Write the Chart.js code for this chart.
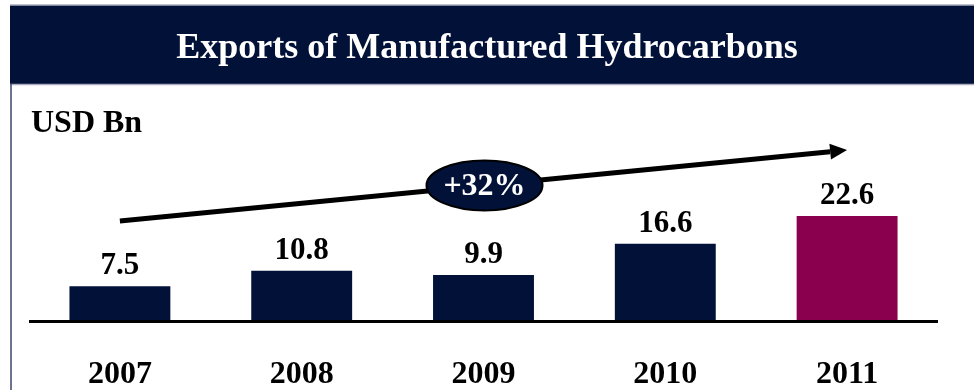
<!DOCTYPE html>
<html>
<head>
<meta charset="utf-8">
<script src="https://cdn.jsdelivr.net/npm/chart.js@4/dist/chart.umd.min.js"></script>
<style>
  html, body { margin: 0; padding: 0; background: #fff; overflow: hidden; }
  #wrap { width: 974px; height: 390px; position: relative; }
</style>
</head>
<body>
<div id="wrap"><canvas id="c" width="974" height="390"></canvas></div>
<script>
// Chart content
const chartTitle = 'Exports of Manufactured Hydrocarbons';
const unitLabel = 'USD Bn';
const years = ['2007', '2008', '2009', '2010', '2011'];
const exportsBn = [7.5, 10.8, 9.9, 16.6, 22.6];
const growthLabel = '+32%';

const NAVY = '#011137';
const MAROON = '#8a004f';
const SERIF = '"Liberation Serif", "Times New Roman", serif';
const barColors = years.map((_, i) => (i === years.length - 1 ? MAROON : NAVY));

// Header band, frame, axis line, labels and growth arrow
const decor = {
  id: 'decor',
  beforeDraw(chart) {
    const { ctx, width, height } = chart;
    ctx.save();
    ctx.fillStyle = '#fff';
    ctx.fillRect(0, 0, width, height);

    // header band
    ctx.fillStyle = NAVY;
    ctx.fillRect(10, 5, width - 10, 79);
    ctx.strokeStyle = '#a9adbf';
    ctx.lineWidth = 1.5;
    ctx.beginPath();
    ctx.moveTo(10, 5); ctx.lineTo(width, 5);
    ctx.moveTo(10, 84.5); ctx.lineTo(width, 84.5);
    ctx.stroke();

    // left frame line
    ctx.strokeStyle = '#3c4468';
    ctx.lineWidth = 1.5;
    ctx.beginPath();
    ctx.moveTo(11, 84); ctx.lineTo(11, height);
    ctx.stroke();

    // title
    ctx.fillStyle = '#fff';
    ctx.font = 'bold 36px ' + SERIF;
    ctx.textAlign = 'center';
    ctx.textBaseline = 'alphabetic';
    ctx.fillText(chartTitle, width / 2, 58);

    // unit label
    ctx.fillStyle = '#000';
    ctx.font = 'bold 32px ' + SERIF;
    ctx.textAlign = 'left';
    ctx.fillText(unitLabel, 31, 132);
    ctx.restore();
  },
  afterDatasetsDraw(chart) {
    const { ctx, chartArea } = chart;
    const xs = chart.scales.x;
    const ys = chart.scales.y;
    const meta = chart.getDatasetMeta(0);
    ctx.save();

    // category axis line
    const y0 = ys.getPixelForValue(0);
    ctx.strokeStyle = '#000';
    ctx.lineWidth = 3;
    ctx.beginPath();
    ctx.moveTo(chartArea.left, y0 + 0.5);
    ctx.lineTo(chartArea.right, y0 + 0.5);
    ctx.stroke();

    // value labels
    ctx.fillStyle = '#000';
    ctx.font = 'bold 31px ' + SERIF;
    ctx.textAlign = 'center';
    ctx.textBaseline = 'alphabetic';
    meta.data.forEach((bar, i) => {
      ctx.fillText(String(exportsBn[i]), bar.x, bar.y - 12);
    });

    // year labels
    ctx.font = 'bold 32px ' + SERIF;
    years.forEach((yr, i) => {
      ctx.fillText(yr, xs.getPixelForValue(i), 383);
    });

    // growth arrow
    const x1 = xs.getPixelForValue(0);
    const x2 = xs.getPixelForValue(years.length - 1);
    const y1 = 221, y2 = 150;
    const ang = Math.atan2(y2 - y1, x2 - x1);
    const headLen = 17, headHalf = 8;
    const bx = x2 - headLen * Math.cos(ang);
    const by = y2 - headLen * Math.sin(ang);
    ctx.strokeStyle = '#000';
    ctx.lineWidth = 5;
    ctx.lineCap = 'butt';
    ctx.beginPath();
    ctx.moveTo(x1, y1);
    ctx.lineTo(bx, by);
    ctx.stroke();
    ctx.fillStyle = '#000';
    ctx.beginPath();
    ctx.moveTo(x2, y2);
    ctx.lineTo(bx + headHalf * Math.sin(ang), by - headHalf * Math.cos(ang));
    ctx.lineTo(bx - headHalf * Math.sin(ang), by + headHalf * Math.cos(ang));
    ctx.closePath();
    ctx.fill();

    // growth badge
    const cx = xs.getPixelForValue(2) + 1;
    const cy = y1 + (y2 - y1) * (cx - x1) / (x2 - x1);
    ctx.beginPath();
    ctx.ellipse(cx, cy, 58, 25, 0, 0, Math.PI * 2);
    ctx.fillStyle = NAVY;
    ctx.fill();
    ctx.lineWidth = 2;
    ctx.strokeStyle = '#000';
    ctx.stroke();
    ctx.fillStyle = '#fff';
    ctx.font = 'bold 32px ' + SERIF;
    ctx.textAlign = 'center';
    ctx.textBaseline = 'middle';
    ctx.fillText(growthLabel, cx, cy + 1);

    ctx.restore();
  }
};

new Chart(document.getElementById('c'), {
  type: 'bar',
  data: {
    labels: years,
    datasets: [{
      data: exportsBn,
      backgroundColor: barColors,
      borderWidth: 0,
      barPercentage: 0.555,
      categoryPercentage: 1
    }]
  },
  options: {
    responsive: false,
    animation: false,
    events: [],
    layout: { padding: { left: 29, right: 36, top: 135, bottom: 69 } },
    plugins: {
      legend: { display: false },
      tooltip: { enabled: false },
      title: { display: false }
    },
    scales: {
      x: { display: false },
      y: { display: false, min: 0, max: 40 }
    }
  },
  plugins: [decor]
});
</script>
</body>
</html>
